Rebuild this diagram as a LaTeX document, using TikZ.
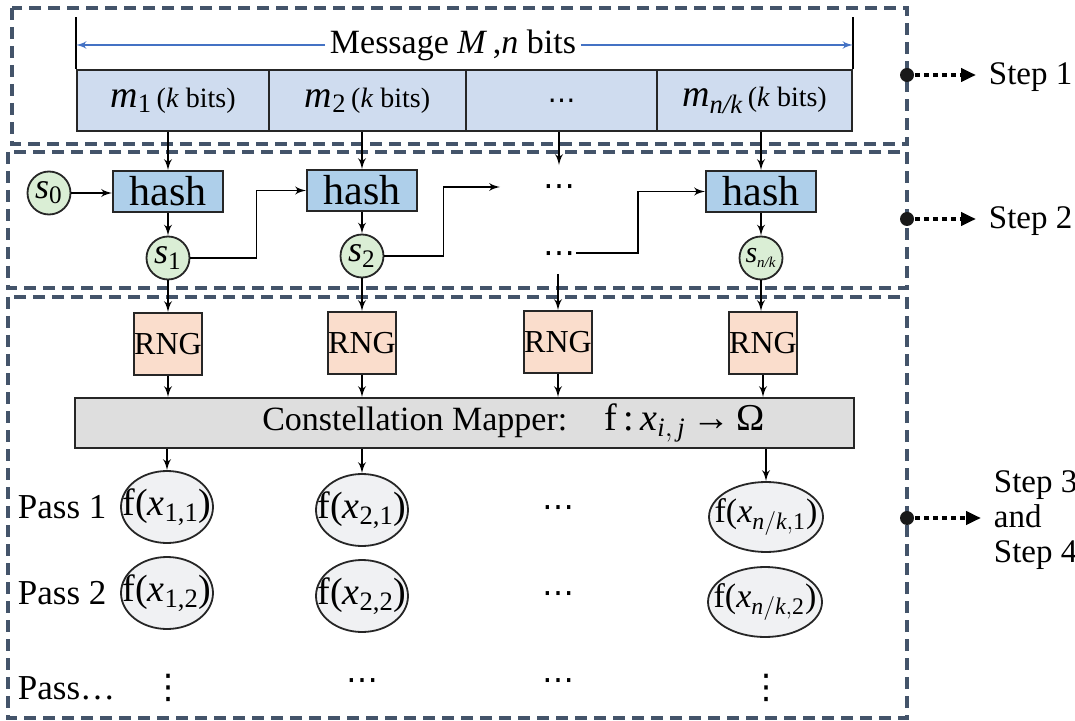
\documentclass[tikz,border=0pt]{standalone}
\usepackage{amsmath}
\usepackage{fontspec}
\setmainfont{LiberationSerif}[Extension=.ttf, UprightFont=*-Regular, ItalicFont=*-Italic, BoldFont=*-Bold, BoldItalicFont=*-BoldItalic]
\newfontfamily\dotfont{DejaVu Sans}
\usetikzlibrary{arrows,arrows.meta,shapes.geometric}
\definecolor{frameblue}{HTML}{44546A}
\definecolor{msgfill}{HTML}{CFDCEF}
\definecolor{hashfill}{HTML}{AECFEA}
\definecolor{seedfill}{HTML}{DAEED5}
\definecolor{rngfill}{HTML}{FADDCC}
\definecolor{mapfill}{HTML}{DEDEDE}
\definecolor{symfill}{HTML}{F0F1F3}
\definecolor{msgline}{HTML}{4472C4}
\newcommand{\fs}[1]{\fontsize{#1}{#1}\selectfont}
\newcommand{\seglab}[1]{{\fs{19}$\textit{m}_{#1}$}\,(\textit{k} bits)}
\newcommand{\symlab}[1]{\makebox[0pt]{f($\textit{x}_{#1}$)}}
\newcommand{\hdotz}{{\dotfont\vphantom{(}⋯}}
\newcommand{\vdotz}{{\dotfont ⋮}}

\begin{document}
\begin{tikzpicture}[x=0.5pt, y=-0.5pt, >=latex', line width=0.9pt]
  \tikzstyle{stage} = [draw=frameblue, line width=1.75pt, dash pattern=on 6pt off 3.5pt]
  \tikzstyle{seg} = [draw=black!85, fill=msgfill, rectangle, minimum height=30.5pt, inner sep=0pt, font=\fs{14}]
  \tikzstyle{hashbox} = [draw=black!85, fill=hashfill, rectangle, minimum width=55pt, minimum height=20.5pt, inner sep=0pt, font=\fs{21}]
  \tikzstyle{seed} = [draw=black!85, fill=seedfill, circle, minimum size=21.5pt, inner sep=0pt, font=\fs{18}]
  \tikzstyle{rng} = [draw=black!85, fill=rngfill, rectangle, minimum width=34pt, minimum height=31pt, inner sep=0pt, font=\fs{16}]
  \tikzstyle{mapper} = [draw=black!85, fill=mapfill, rectangle, minimum width=389.5pt, minimum height=25pt, inner sep=0pt, font=\fs{17}]
  \tikzstyle{sym} = [draw=black!85, fill=symfill, ellipse, minimum width=46pt, minimum height=36pt, inner sep=0pt, font=\fs{19}]
  \tikzstyle{dots} = [inner sep=0pt, minimum height=20pt, font=\fs{16}]
  \tikzstyle{pass} = [anchor=west, inner sep=0pt, font=\fs{17.5}]
  \tikzstyle{stepdot} = [fill=black!90, circle, minimum size=7pt, inner sep=0pt]
  \tikzstyle{stepline} = [line width=2pt, dash pattern=on 2.5pt off 2pt, shorten >=6pt, -{Triangle[length=7.5pt,width=6.5pt]}]
  \tikzstyle{steplab} = [anchor=west, inner sep=0pt, font=\fs{16.5}, align=left]

  \useasboundingbox (0,0) rectangle (1075,721);
  \draw[stage] (12,8) rectangle (907,144);
  \draw[stage] (8,152) rectangle (907,288);
  \draw[stage] (8,297) rectangle (907,718);

  \node[seg, minimum width=96pt] (m1) at (173,100.5) {\seglab{\text{1}}};
  \node[seg, minimum width=98.5pt] (m2) at (367.5,100.5) {\seglab{\text{2}}};
  \node[seg, minimum width=95.5pt] (md) at (561.5,100.5) {\hdotz};
  \node[seg, minimum width=97.5pt] (mk) at (754.5,100.5) {\seglab{\textit{n/k}}};
  \node[font=\fs{17}, inner sep=2pt] (msg) at (453,45) {Message \textit{M}\,,\textit{n} bits};
  \draw (m1.north west) -- ++(0,-52);
  \draw (mk.north east) -- ++(0,-52);
  \draw[->, msgline, line width=0.8pt] (msg.west) -- (msg.west -| m1.west);
  \draw[->, msgline, line width=0.8pt] (msg.east) -- (msg.east -| mk.east);

  \node[seed] (s0) at (49,193) {$\textit{s}_{\text{0}}$};
  \node[hashbox] (h1) at (168,191.5) {hash};
  \node[hashbox] (h2) at (362,190.5) {hash};
  \node[hashbox] (hk) at (761,191.5) {hash};
  \node[seed] (s1) at (168,258) {$\textit{s}_{\text{1}}$};
  \node[seed] (s2) at (362,256) {$\textit{s}_{\text{2}}$};
  \node[seed, font=\fs{15}] (sk) at (761,258) {$\textit{s}_{\scriptscriptstyle\textit{n/k}}$};
  \node[dots] (d1) at (559,186) {\hdotz};
  \node[dots] (d2) at (559,253) {\hdotz};
  \coordinate (c2) at (500,187);

  \draw[->] (m1.south -| h1) -- (h1);
  \draw[->] (m2.south -| h2) -- (h2);
  \draw[->] (md.south -| d1) -- (d1);
  \draw[->] (mk.south -| hk) -- (hk);
  \draw[->] (s0) -- (h1.west |- s0);
  \draw[->] (h1) -- (s1);
  \draw[->] (h2) -- (s2);
  \draw[->] (hk) -- (sk);
  \draw[->] (s1.east) -- ++(66,0) |- (h2.west);
  \draw[->] (s2.east) -- ++(59,0) |- (c2);
  \draw[->] (d2.east) -- ++(62,0) |- (hk.west);

  \node[rng] (r1) at (168,344) {RNG};
  \node[rng] (r2) at (362,343) {RNG};
  \node[rng] (r3) at (558,342) {RNG};
  \node[rng] (r4) at (763,343) {RNG};
  \draw[->] (s1) -- (s1 |- r1.north);
  \draw[->] (s2) -- (s2 |- r2.north);
  \draw[->] (d2.south -| r3) -- (r3);
  \draw[->] (sk) -- (sk |- r4.north);

  \node[mapper] (map) at (464.5,423) {\hspace*{49pt}Constellation Mapper:\hspace{1.1em}{\fs{19}f\,:\,$\textit{x}_{\textit{i},\,\textit{j}}$\,→\,Ω}};
  \draw[->] (r1) -- (r1 |- map.north);
  \draw[->] (r2) -- (r2 |- map.north);
  \draw[->] (r3) -- (r3 |- map.north);
  \draw[->] (r4) -- (r4 |- map.north);

  \node[sym] (e11) at (167,507) {\symlab{\text{1,1}}};
  \node[sym] (e21) at (362,510) {\symlab{\text{2,1}}};
  \node[sym, minimum width=57pt, minimum height=35pt, font=\fs{17}] (ek1) at (766,517) {\symlab{\textit{n}/\textit{k},\text{1}}};
  \node[sym] (e12) at (167,593) {\symlab{\text{1,2}}};
  \node[sym] (e22) at (362,596) {\symlab{\text{2,2}}};
  \node[sym, minimum width=57pt, minimum height=35pt, font=\fs{17}] (ek2) at (765,602) {\symlab{\textit{n}/\textit{k},\text{2}}};
  \draw[->] (map.south -| e11) -- (e11);
  \draw[->] (map.south -| e21) -- (e21);
  \draw[->] (map.south -| ek1) -- (ek1);

  \node[pass] (p1) at (17,507) {Pass 1};
  \node[pass] (p2) at (17,593) {Pass 2};
  \node[pass] (p3) at (17,688) {Pass…};
  \node[dots, font=\fs{17}] (v1) at (168,688) {\vdotz};
  \node[dots] (u2) at (362,680) {\hdotz};
  \node[dots] (u31) at (558,507) {\hdotz};
  \node[dots] (u32) at (558,593) {\hdotz};
  \node[dots] (u33) at (558,680) {\hdotz};
  \node[dots, font=\fs{17}] (v4) at (766,688) {\vdotz};

  \node[stepdot] (k1) at (907,75) {};
  \node[stepdot] (k2) at (907,219) {};
  \node[stepdot] (k3) at (907,518) {};
  \node[steplab] (t1) at (988,77) {Step 1};
  \node[steplab] (t2) at (988,221) {Step 2};
  \node[steplab, font=\fontsize{16.5}{17.5}\selectfont] (t3) at (993,520) {Step 3\\and\\Step 4};
  \draw[stepline] (k1) -- (t1.west |- k1);
  \draw[stepline] (k2) -- (t2.west |- k2);
  \draw[stepline] (k3) -- (t3.west |- k3);
\end{tikzpicture}
\end{document}
